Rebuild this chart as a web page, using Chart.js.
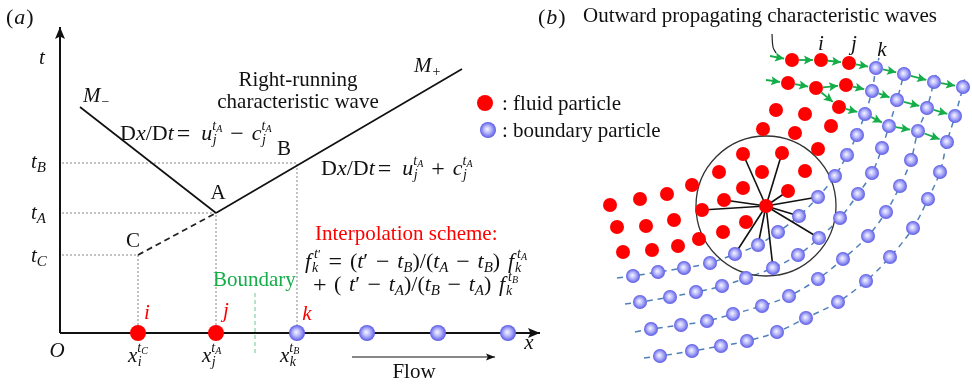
<!DOCTYPE html>
<html>
<head>
<meta charset="utf-8">
<script src="https://cdn.jsdelivr.net/npm/chart.js@4"></script>
<style>
  html, body { margin: 0; padding: 0; background: #fff; overflow: hidden; }
  canvas { display: block; }
</style>
</head>
<body>
<canvas id="fig" width="972" height="384"></canvas>
<script>
// ---------- Panel (a): characteristic lines on the x–t plane (figure units) ----------
const origin      = [60, 333];
const tAxisTip    = [60, 27];
const xAxisTip    = [540, 333];
const pointA      = [216, 213];
const pointB      = [297, 164];
const pointC      = [138, 255];
const mMinusStart = [80, 107];
const mPlusEnd    = [462, 69];
const levelTB = 163, levelTA = 213, levelTC = 255;
const fluidA    = [[138, 333], [216, 333]];
const boundaryA = [[297, 333], [367, 333], [438, 333], [508, 333]];
const boundaryMark = [[255, 293], [255, 353]];
const flowArrow    = [[352, 357], [495, 357]];
const legendFluid    = [[485, 103]];
const legendBoundary = [[488, 130]];

// ---------- Panel (b): particles around the outflow boundary ----------
const fluidB = [
  [792, 60], [821, 60], [849, 63],
  [788, 83], [816, 88], [846, 85],
  [839, 107],
  [776, 110], [805, 114], [831, 126],
  [763, 129], [795, 133], [818, 149],
  [743, 154], [782, 153],
  [719, 172], [762, 172], [805, 171],
  [692, 185], [743, 188], [788, 191],
  [724, 200], [702, 210],
  [610, 205], [640, 199], [667, 194],
  [617, 227], [646, 226], [674, 220],
  [746, 222], [723, 232],
  [623, 252], [652, 250], [678, 246], [699, 239]
];
const centreB = [766, 206];
const supportRadius = 70;
const boundaryCurves = [
  [[633,276],[658,272],[684,268],[710,263],[735,254],[758,245],[778,232],[799,216],[818,197],[835,176],[847,155],[857,135],[865,114],[872,91],[876,68]],
  [[640,302],[670,297],[696,292],[722,286],[746,278],[773,268],[798,255],[819,238],[840,218],[858,194],[872,173],[882,148],[889,126],[897,100],[904,74]],
  [[651,329],[681,325],[707,321],[733,314],[762,306],[789,296],[818,279],[843,259],[868,236],[886,212],[900,186],[911,160],[918,131],[927,108],[934,82]],
  [[660,356],[692,351],[721,346],[747,341],[777,332],[806,318],[838,302],[866,281],[890,257],[913,228],[928,199],[940,172],[947,142],[955,116],[963,87]]
];
const curveStarts = [[617, 278], [625, 304], [635, 332], [644, 358]];
const curveEnds   = [[879, 58], [907, 64], [937, 72], [965, 77]];
const neighbours = [
  [743,154],[782,153],[788,191],[818,197],[799,216],[819,238],
  [773,268],[758,245],[735,254],[702,210],[724,200]
];
const waveArrows = [
  [[770,56],[792,60]], [[792,60],[821,60]], [[821,60],[849,63]], [[849,63],[876,68]],
  [[876,68],[904,74]], [[904,74],[934,82]], [[934,82],[963,87]],
  [[766,80],[788,83]], [[788,83],[816,88]], [[816,88],[846,85]], [[816,88],[839,107]],
  [[846,85],[872,91]], [[872,91],[897,100]], [[897,100],[927,108]], [[927,108],[955,116]],
  [[839,107],[865,114]], [[865,114],[889,126]], [[889,126],[918,131]], [[918,131],[947,142]]
];
const bracketStroke = [[772, 34], [773, 47], [776, 53]];

// ---------- drawing helpers ----------
const SERIF = '"Liberation Serif", "DejaVu Serif", serif';
const RED = '#ff0000', GREEN = '#14ad4a', DASHBLUE = '#4f81b8';

function ballImage(r) {
  const c = document.createElement('canvas');
  const s = Math.ceil(2 * r + 2);
  c.width = c.height = s;
  const g = c.getContext('2d');
  const m = s / 2;
  const gr = g.createRadialGradient(m - r * 0.12, m - r * 0.12, 0, m, m, r);
  gr.addColorStop(0, '#f6f6ff');
  gr.addColorStop(0.45, '#b9b9fb');
  gr.addColorStop(1, '#5a5ae6');
  g.fillStyle = gr;
  g.beginPath(); g.arc(m, m, r, 0, Math.PI * 2); g.fill();
  return c;
}
const ballA = ballImage(8), ballB = ballImage(7);

const pts = a => a.map(([x, y]) => ({ x, y }));
function line(arr, color, width, dash, extra) {
  return Object.assign({
    data: pts(arr), showLine: true, borderColor: color, borderWidth: width,
    borderDash: dash || [], pointRadius: 0, pointHoverRadius: 0, fill: false,
    tension: 0, order: 10
  }, extra || {});
}
function dots(arr, style, radius, color) {
  return {
    data: pts(arr), showLine: false, pointStyle: style, pointRadius: radius,
    pointHoverRadius: radius, backgroundColor: color || RED, borderWidth: 0, order: 1
  };
}
function shorten(p, q, d0, d1) {
  const dx = q[0] - p[0], dy = q[1] - p[1], L = Math.hypot(dx, dy);
  return [[p[0] + dx * d0 / L, p[1] + dy * d0 / L], [q[0] - dx * d1 / L, q[1] - dy * d1 / L]];
}

// ---------- datasets ----------
const datasets = [];
// axes
datasets.push(line([origin, tAxisTip], '#111', 2, [], { head: { len: 12, w: 5 } }));
datasets.push(line([origin, xAxisTip], '#111', 2, [], { head: { len: 12, w: 5 } }));
// characteristic lines
datasets.push(line([mMinusStart, pointA], '#111', 1.7));
datasets.push(line([pointA, mPlusEnd], '#111', 1.7));
datasets.push(line([pointC, pointA], '#222', 1.8, [6, 4]));
// projection lines
datasets.push(line([[62, levelTB], [pointB[0], levelTB], [pointB[0], origin[1]]], '#777', 0.9, [2, 2]));
datasets.push(line([[62, levelTA], [pointA[0], levelTA], [pointA[0], origin[1]]], '#777', 0.9, [2, 2]));
datasets.push(line([[62, levelTC], [pointC[0], levelTC], [pointC[0], origin[1]]], '#777', 0.9, [2, 2]));
datasets.push(line(boundaryMark, '#6cc990', 1, [4, 3]));
datasets.push(line(flowArrow, '#111', 1, [], { head: { len: 9, w: 3.5 } }));
// particles on the x axis and legend
datasets.push(dots(fluidA, 'circle', 8, RED));
datasets.push(dots(boundaryA, ballA, 8));
datasets.push(dots(legendFluid, 'circle', 8, RED));
datasets.push(dots(legendBoundary, ballA, 8));

// panel (b)
boundaryCurves.forEach((c, i) => {
  datasets.push(line([curveStarts[i], ...c, curveEnds[i]], DASHBLUE, 1.5, [6, 5], { tension: 0.35 }));
  datasets.push(dots(c, ballB, 7));
});
neighbours.forEach(n => datasets.push(line([centreB, n], '#111', 1.6, [], { order: 8 })));
datasets.push({
  data: pts([centreB]), showLine: false, pointStyle: 'circle', pointRadius: supportRadius,
  pointHoverRadius: supportRadius, backgroundColor: 'rgba(0,0,0,0)', borderColor: '#333',
  borderWidth: 1.3, order: 9
});
waveArrows.forEach(([p, q], k) => {
  const startsOnParticle = !(k === 0 || k === 7);
  datasets.push(line(shorten(p, q, startsOnParticle ? 7 : 0, 8), GREEN, 1.8, [], { head: { len: 9, w: 4.5 }, order: 0 }));
});
datasets.push(line(bracketStroke, '#222', 1.2, [], { tension: 0.4 }));
datasets.push(dots(fluidB, 'circle', 7, RED));
datasets.push(dots([centreB], 'circle', 7, RED));

// ---------- rich text ----------
const F = (sz, it) => (it ? 'italic ' : '') + sz + 'px ' + SERIF;
const R = (t, o) => Object.assign({ t, sz: 21, it: false }, o || {});
const I = (t, o) => Object.assign({ t, sz: 21, it: true }, o || {});
const MR = (t, o) => R(t, Object.assign({ sz: 22 }, o || {}));
const MI = (t, o) => I(t, Object.assign({ sz: 22 }, o || {}));
const OP = (t, o) => R(t, Object.assign({ sz: 24, dy: 1 }, o || {}));
const sub  = (t, o) => I(t, Object.assign({ sz: 14, dy: 4, mark: true }, o || {}));
const sup  = (t, o) => I(t, Object.assign({ sz: 14, dy: -10, back: true }, o || {}));
const sup2 = (t, o) => I(t, Object.assign({ sz: 10, dy: -8 }, o || {}));
const low  = (t, o) => I(t, Object.assign({ sz: 15, dy: 4 }, o || {}));

// Lays out a run of text pieces; pieces flagged "gl" absorb extra space
// so that the run fills the requested width.
function rich(ctx, x, y, segs, color, align, width) {
  const run = extra => {
    let pen = 0, mark = 0, maxX = 0;
    const placed = [];
    for (const s of segs) {
      if (s.max) pen = maxX;
      if (s.mark) mark = pen;
      if (s.back) pen = mark;
      pen += (s.dx || 0) + (s.gl ? extra : 0);
      ctx.font = F(s.sz, s.it);
      const w = ctx.measureText(s.t).width;
      placed.push({ s, x: pen });
      pen += w;
      maxX = Math.max(maxX, pen);
    }
    return { placed, maxX };
  };
  let lay = run(0);
  if (width) {
    const n = segs.filter(s => s.gl).length;
    if (n) lay = run(Math.max(0, (width - lay.maxX) / n));
  }
  const off = align === 'center' ? -lay.maxX / 2 : align === 'right' ? -lay.maxX : 0;
  ctx.textAlign = 'left';
  ctx.textBaseline = 'alphabetic';
  for (const p of lay.placed) {
    ctx.font = F(p.s.sz, p.s.it);
    ctx.fillStyle = p.s.c || color;
    ctx.fillText(p.s.t, x + off + p.x, y + (p.s.dy || 0));
  }
}

function dxdt(sign) {
  return [
    MR('D'), MI('x'), MR('/'), MR('D'), MI('t'),
    OP('=', { dx: 3 }),
    MI('u', { dx: 11 }), sub('j', { dx: 0.5 }), sup('t'), sup2('A'),
    OP(sign, { max: true, dx: 8 }),
    MI('c', { dx: 8 }), sub('j', { dx: 0.5 }), sup('t'), sup2('A')
  ];
}

const textPlugin = {
  id: 'figureText',
  afterDatasetsDraw(chart) {
    const ctx = chart.ctx;
    // arrowheads at the end of arrowed segments
    chart.data.datasets.forEach((ds, i) => {
      if (!ds.head) return;
      const el = chart.getDatasetMeta(i).data;
      const p1 = el[el.length - 1], p0 = el[el.length - 2];
      const a = Math.atan2(p1.y - p0.y, p1.x - p0.x);
      const { len, w } = ds.head;
      ctx.save();
      ctx.fillStyle = ds.borderColor;
      ctx.translate(p1.x, p1.y);
      ctx.rotate(a);
      ctx.beginPath();
      ctx.moveTo(0, 0); ctx.lineTo(-len, -w); ctx.lineTo(-len * 0.8, 0); ctx.lineTo(-len, w);
      ctx.closePath(); ctx.fill();
      ctx.restore();
    });
  },
  afterDraw(chart) {
    const ctx = chart.ctx;
    ctx.save();
    const K = '#111';
    // panel labels
    rich(ctx, 6, 24, [R('(', { sz: 22 }), I('a', { sz: 22, dx: 1 }), R(')', { sz: 22, dx: 1 })], K);
    rich(ctx, 538, 24, [R('(', { sz: 22 }), I('b', { sz: 22, dx: 1 }), R(')', { sz: 22, dx: 1 })], K);
    rich(ctx, 583, 22, [R('Outward propagating characteristic waves')], K);

    // panel (a)
    rich(ctx, 42, 64, [I('t')], K, 'center');
    rich(ctx, 83, 102, [I('M'), R('−', { sz: 14, dy: 4, dx: 1 })], K);
    rich(ctx, 414, 72, [I('M'), R('+', { sz: 14, dy: 4, dx: 1 })], K);
    rich(ctx, 298, 86, [R('Right-running')], K, 'center');
    rich(ctx, 298, 108, [R('characteristic wave')], K, 'center');
    rich(ctx, 120, 140, dxdt('−'), K);
    rich(ctx, 321, 175, dxdt('+'), K);
    rich(ctx, 284, 155, [R('B')], K, 'center');
    rich(ctx, 218, 199, [R('A')], K, 'center');
    rich(ctx, 133, 247, [R('C')], K, 'center');
    rich(ctx, 31, 168, [I('t'), low('B')], K);
    rich(ctx, 31, 219, [I('t'), low('A')], K);
    rich(ctx, 31, 262, [I('t'), low('C')], K);
    rich(ctx, 57, 357, [I('O')], K, 'center');
    rich(ctx, 529, 349, [I('x')], K, 'center');

    rich(ctx, 502, 110, [R(': fluid particle')], K);
    rich(ctx, 502, 137, [R(': boundary particle')], K);

    rich(ctx, 315, 240, [R('Interpolation scheme:')], RED);
    rich(ctx, 305, 268, [
      MI('f'), sub('k', { dx: 1 }), sup('t', { dx: 3 }), R('′', { sz: 13, dy: -10 }),
      OP('=', { max: true, gl: true }), MR('(', { gl: true }), MI('t'), MR('′'), OP('−', { gl: true }),
      MI('t', { gl: true }), low('B'), MR(')/('), MI('t'), low('A'), OP('−', { gl: true }),
      MI('t', { gl: true }), low('B'), MR(')'), MI('f', { gl: true }), sub('k', { dx: 1 }), sup('t', { dx: 3 }), sup2('A')
    ], K, 'left', 222);
    rich(ctx, 313, 291, [
      OP('+'), MR('(', { gl: true }), MI('t', { gl: true }), MR('′'), OP('−', { gl: true }),
      MI('t', { gl: true }), low('A'), MR(')/('), MI('t'), low('B'), OP('−', { gl: true }),
      MI('t', { gl: true }), low('A'), MR(')'), MI('f', { gl: true }), sub('k', { dx: 1 }), sup('t', { dx: 3 }), sup2('B')
    ], K, 'left', 205);

    rich(ctx, 213, 286, [R('Boundary')], GREEN);
    rich(ctx, 147, 319, [I('i')], RED, 'center');
    rich(ctx, 226, 317, [I('j')], RED, 'center');
    rich(ctx, 307, 320, [I('k')], RED, 'center');

    rich(ctx, 128, 362, [I('x'), sub('i', { dx: 0.5 }), sup('t'), sup2('C')], K);
    rich(ctx, 202, 362, [I('x'), sub('j', { dx: 0.5 }), sup('t'), sup2('A')], K);
    rich(ctx, 280, 362, [I('x'), sub('k', { dx: 0.5 }), sup('t'), sup2('B')], K);
    rich(ctx, 414, 378, [R('Flow')], K, 'center');

    // panel (b) particle names
    rich(ctx, 821, 50, [I('i')], K, 'center');
    rich(ctx, 854, 50, [I('j')], K, 'center');
    rich(ctx, 882, 56, [I('k')], K, 'center');
    ctx.restore();
  }
};

new Chart(document.getElementById('fig'), {
  type: 'scatter',
  data: { datasets },
  options: {
    responsive: false,
    animation: false,
    devicePixelRatio: 1,
    layout: { padding: 0, autoPadding: false },
    events: [],
    plugins: { legend: { display: false }, tooltip: { enabled: false } },
    scales: {
      x: { type: 'linear', min: 0, max: 972, display: false },
      y: { type: 'linear', min: 0, max: 384, reverse: true, display: false }
    }
  },
  plugins: [textPlugin]
});
</script>
</body>
</html>
